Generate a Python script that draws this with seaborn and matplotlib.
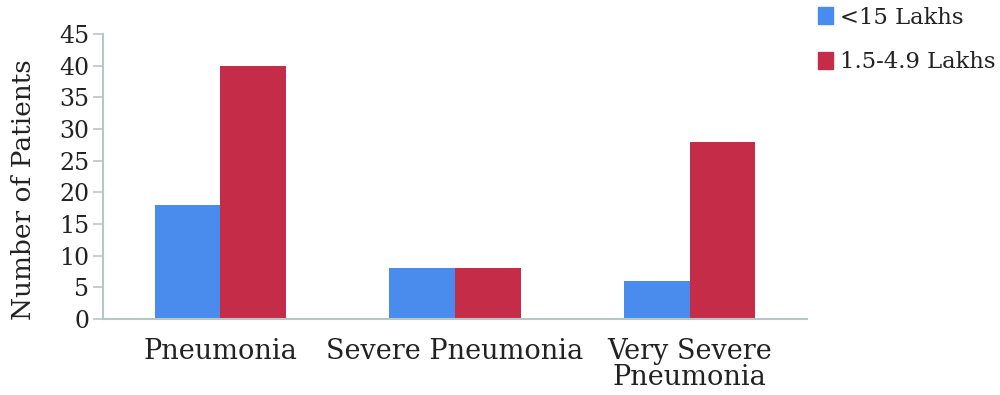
import pandas as pd
import matplotlib
matplotlib.use("Agg")
import matplotlib.pyplot as plt
import seaborn as sns

# data
categories = ['Pneumonia', 'Severe Pneumonia', 'Very Severe\nPneumonia']
groups = ['<15 Lakhs', '1.5-4.9 Lakhs']
low_income = [18, 8, 6]
mid_income = [40, 8, 28]
yticks = [0, 5, 10, 15, 20, 25, 30, 35, 40, 45]

df = pd.DataFrame({
    'Category': categories * 2,
    'Group': [groups[0]] * 3 + [groups[1]] * 3,
    'Patients': low_income + mid_income,
})

sns.set_style('white')
plt.rcParams['font.family'] = ['DejaVu Serif']

colors = ['#4a8cee', '#c42c48']
spine_col = '#b7c7c6'

fig = plt.figure(figsize=(10, 3.95), dpi=100)
ax = fig.add_axes([0.103, 0.192, 0.704, 0.722])

sns.barplot(data=df, x='Category', y='Patients', hue='Group',
            palette=colors, width=0.56, saturation=1, linewidth=0,
            ax=ax, legend=False)

ax.set_xlim(-0.5, 2.5)
ax.set_ylim(0, 45)
ax.set_yticks(yticks)
ax.set_xlabel('')
ax.set_ylabel('Number of Patients', fontsize=19, color='#222222')
ax.yaxis.set_label_coords(-0.095, 0.455)

for s in ['top', 'right']:
    ax.spines[s].set_visible(False)
for s in ['left', 'bottom']:
    ax.spines[s].set_color(spine_col)
    ax.spines[s].set_linewidth(1.5)

ax.tick_params(axis='y', left=True, length=7, width=1.2, color=spine_col,
               labelsize=17, labelcolor='#222222', pad=3)
ax.tick_params(axis='x', bottom=False, labelsize=19.5, labelcolor='#222222', pad=10)
for lab in ax.get_xticklabels():
    lab.set_linespacing(0.95)

handles = [plt.Rectangle((0, 0), 1, 1, color=c) for c in colors]
fig.legend(handles, groups, loc='upper left', bbox_to_anchor=(0.798, 1.035),
           frameon=False, fontsize=16.3, handlelength=0.65, handleheight=0.75,
           handletextpad=0.3, labelspacing=1.0, labelcolor='#222222')

fig.savefig('out.png', dpi=100)
